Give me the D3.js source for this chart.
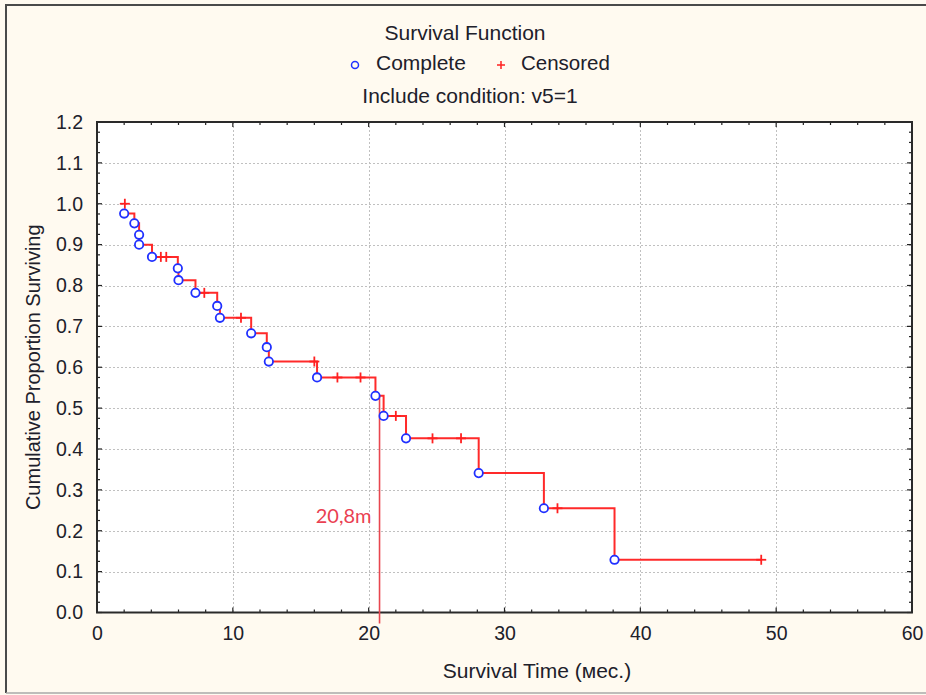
<!DOCTYPE html>
<html>
<head>
<meta charset="utf-8">
<script src="https://cdn.jsdelivr.net/npm/d3@7"></script>
<style>
  html, body { margin: 0; padding: 0; background: #fffaf0; }
  svg { display: block; }
  text { font-family: "Liberation Sans", Arial, sans-serif; fill: #20202a; }
</style>
</head>
<body>
<svg id="chart" width="926" height="695"></svg>
<script>
// Kaplan–Meier estimate: event (complete) times and the survival level after each event
const completeTime = [2.0, 2.75, 3.1, 3.1, 4.05, 5.95, 6.0, 7.25, 8.85, 9.05, 11.35, 12.5, 12.65, 16.2, 20.5, 21.1, 22.75, 28.1, 32.9, 38.1];
const completeSurv = [0.976, 0.952, 0.924, 0.900, 0.870, 0.842, 0.813, 0.782, 0.750, 0.721, 0.683, 0.649, 0.614, 0.575, 0.530, 0.481, 0.426, 0.341, 0.255, 0.129];

// Censored observations and the survival level at which they sit
const censoredTime = [2.05, 4.7, 5.1, 7.9, 10.6, 16.0, 17.7, 19.4, 22.0, 24.7, 26.8, 33.9, 48.9];
const censoredSurv = [1.0, 0.870, 0.870, 0.782, 0.721, 0.614, 0.575, 0.575, 0.481, 0.426, 0.426, 0.255, 0.129];

// Axis ticks
const xTicks = [0, 10, 20, 30, 40, 50, 60];
const yTicks = [0.0, 0.1, 0.2, 0.3, 0.4, 0.5, 0.6, 0.7, 0.8, 0.9, 1.0, 1.1, 1.2];

// Median survival time
const medianTime = 20.8;
const medianLabel = "20,8m";

const svg = d3.select("#chart");
const W = 926, H = 695;
const plot = { left: 97, right: 912, top: 122, bottom: 612.5 };

const x = d3.scaleLinear().domain([0, 60]).range([plot.left, plot.right]);
const y = d3.scaleLinear().domain([0, 1.2]).range([plot.bottom, plot.top]);

// Window background and sunken frame
svg.append("rect").attr("width", W).attr("height", H).attr("fill", "#fffaf0");
svg.append("line").attr("x1", 6).attr("x2", 6).attr("y1", 4).attr("y2", 693)
  .attr("stroke", "#4a4a4a").attr("stroke-width", 2);
svg.append("line").attr("x1", 5).attr("x2", W).attr("y1", 5).attr("y2", 5)
  .attr("stroke", "#4a4a4a").attr("stroke-width", 2);
svg.append("line").attr("x1", 6).attr("x2", W).attr("y1", 693).attr("y2", 693)
  .attr("stroke", "#a8a8a8").attr("stroke-width", 1.5);

// Plot area
svg.append("rect")
  .attr("x", plot.left).attr("y", plot.top)
  .attr("width", plot.right - plot.left).attr("height", plot.bottom - plot.top)
  .attr("fill", "#ffffff");

// Dotted grid
const grid = svg.append("g").attr("stroke", "#c0c0c0").attr("stroke-width", 1)
  .attr("stroke-dasharray", "2,2");
grid.selectAll(".gx").data(xTicks.slice(1, -1)).join("line")
  .attr("x1", d => Math.round(x(d)) + 0.5).attr("x2", d => Math.round(x(d)) + 0.5)
  .attr("y1", plot.top).attr("y2", plot.bottom);
grid.selectAll(".gy").data(yTicks.slice(1, -1)).join("line")
  .attr("x1", plot.left).attr("x2", plot.right)
  .attr("y1", d => Math.round(y(d)) + 0.5).attr("y2", d => Math.round(y(d)) + 0.5);

// Inward ticks on all four sides (majors from the scales, minors in between)
const xMinor = d3.range(0, 60.001, 2);
const yMinor = d3.range(0, 1.2001, 0.025);
const tk = svg.append("g").attr("stroke", "#222").attr("stroke-width", 1.2);
const isMajorX = d => Math.abs(d / 10 - Math.round(d / 10)) < 1e-6;
const isMajorY = d => Math.abs(d * 10 - Math.round(d * 10)) < 1e-6;
xMinor.forEach(d => {
  const len = isMajorX(d) ? 5 : 3;
  tk.append("line").attr("x1", x(d)).attr("x2", x(d)).attr("y1", plot.bottom).attr("y2", plot.bottom - len);
  tk.append("line").attr("x1", x(d)).attr("x2", x(d)).attr("y1", plot.top).attr("y2", plot.top + len);
});
yMinor.forEach(d => {
  const len = isMajorY(d) ? 5 : 3;
  tk.append("line").attr("y1", y(d)).attr("y2", y(d)).attr("x1", plot.left).attr("x2", plot.left + len);
  tk.append("line").attr("y1", y(d)).attr("y2", y(d)).attr("x1", plot.right).attr("x2", plot.right - len);
});

// Frame
svg.append("rect")
  .attr("x", plot.left).attr("y", plot.top)
  .attr("width", plot.right - plot.left).attr("height", plot.bottom - plot.top)
  .attr("fill", "none").attr("stroke", "#2a2a2a").attr("stroke-width", 2);

// Axis labels via d3 axes (lines hidden, labels kept)
const xAxis = svg.append("g").attr("transform", `translate(0,${plot.bottom})`)
  .call(d3.axisBottom(x).tickValues(xTicks).tickFormat(d3.format("d")).tickSize(0).tickPadding(14));
const yAxis = svg.append("g").attr("transform", `translate(${plot.left},0)`)
  .call(d3.axisLeft(y).tickValues(yTicks).tickFormat(d3.format(".1f")).tickSize(0).tickPadding(14));
[xAxis, yAxis].forEach(a => {
  a.select(".domain").remove();
  a.selectAll("text").style("font-family", '"Liberation Sans", Arial, sans-serif')
    .style("font-size", "19.5px").attr("fill", "#20202a");
});

// Survival step curve
const pts = completeTime.map((t, i) => [t, completeSurv[i]]);
pts.push([censoredTime[censoredTime.length - 1], completeSurv[completeSurv.length - 1]]);
const step = d3.line().x(d => x(d[0])).y(d => y(d[1])).curve(d3.curveStepAfter);
svg.append("path").datum(pts).attr("d", step)
  .attr("fill", "none").attr("stroke", "#ff2a2a").attr("stroke-width", 2);

// Median line and its label
const medianLevel = d3.min(pts.filter(p => p[0] <= medianTime), p => p[1]);
svg.append("line")
  .attr("x1", x(medianTime)).attr("x2", x(medianTime))
  .attr("y1", y(medianLevel)).attr("y2", plot.bottom + 11)
  .attr("stroke", "#e8464f").attr("stroke-width", 1.6);
svg.append("text").attr("x", x(medianTime) - 8).attr("y", 523)
  .attr("text-anchor", "end")
  .style("font-family", "Lato, 'Open Sans', sans-serif").style("font-size", "20px")
  .style("fill", "#ea3f52").text(medianLabel);

// Censored marks
const plus = svg.append("g").attr("stroke", "#ff2020").attr("stroke-width", 1.8);
censoredTime.forEach((t, i) => {
  const cx = x(t), cy = y(censoredSurv[i]);
  plus.append("line").attr("x1", cx - 5).attr("x2", cx + 5).attr("y1", cy).attr("y2", cy);
  plus.append("line").attr("x1", cx).attr("x2", cx).attr("y1", cy - 5).attr("y2", cy + 5);
});

// Complete (event) marks
svg.append("g").selectAll("circle").data(pts.slice(0, completeTime.length)).join("circle")
  .attr("cx", d => x(d[0])).attr("cy", d => y(d[1])).attr("r", 4.2)
  .attr("fill", "#ffffff").attr("stroke", "#2030ff").attr("stroke-width", 1.8);

// Titles and legend
const cx = 465;
svg.append("text").attr("x", cx).attr("y", 32).attr("text-anchor", "middle")
  .attr("dominant-baseline", "central").style("font-size", "21px").text("Survival Function");
svg.append("text").attr("x", cx + 5).attr("y", 95).attr("text-anchor", "middle")
  .attr("dominant-baseline", "central").style("font-size", "21px").text("Include condition: v5=1");

svg.append("circle").attr("cx", 355).attr("cy", 65).attr("r", 3.5)
  .attr("fill", "none").attr("stroke", "#2030ff").attr("stroke-width", 1.5);
svg.append("text").attr("x", 376).attr("y", 62).attr("dominant-baseline", "central")
  .style("font-size", "21px").text("Complete");
svg.append("g").attr("stroke", "#ff2020").attr("stroke-width", 1.5).call(g => {
  g.append("line").attr("x1", 497).attr("x2", 505).attr("y1", 65).attr("y2", 65);
  g.append("line").attr("x1", 501).attr("x2", 501).attr("y1", 61).attr("y2", 69);
});
svg.append("text").attr("x", 521).attr("y", 62).attr("dominant-baseline", "central")
  .style("font-size", "20.5px").text("Censored");

// Axis titles
svg.append("text").attr("x", 537).attr("y", 670).attr("text-anchor", "middle")
  .attr("dominant-baseline", "central").style("font-size", "21px").text("Survival Time (мес.)");
svg.append("text").attr("transform", `translate(33,${(plot.top + plot.bottom) / 2}) rotate(-90)`)
  .attr("text-anchor", "middle").attr("dominant-baseline", "central")
  .style("font-size", "20px").text("Cumulative Proportion Surviving");
</script>
</body>
</html>
